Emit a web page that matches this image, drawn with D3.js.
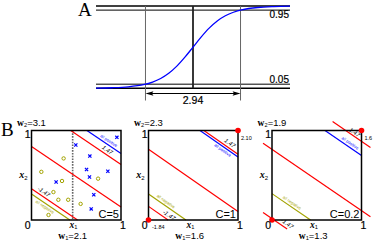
<!DOCTYPE html>
<html><head><meta charset="utf-8">
<script src="https://cdnjs.cloudflare.com/ajax/libs/d3/7.8.5/d3.min.js"></script>
<style>html,body{margin:0;padding:0;background:#fff;} svg{display:block;}</style>
</head><body>
<svg id="c" width="373" height="240"></svg>
<script>
// ---------- data: panel A ----------
const sigZ = [-3,-2.5,-2,-1.5,-1.25,-1,-0.75,-0.5,-0.25,0,0.25,0.5,0.75,1,1.25,1.5,2,2.5,3];
const sigP = [0.0025,0.0067,0.018,0.047,0.076,0.119,0.182,0.269,0.378,0.5,0.622,0.731,0.818,0.881,0.924,0.953,0.982,0.9933,0.9975];
const edgeLevels = [0, 1];
const quantLevels = [0.05, 0.95];
const quantLabels = ["0.05", "0.95"];
const halfWidth = 1.47;
const widthLabel = "2.94";

// ---------- data: panel B ----------
const w1Vals = [2.1, 1.6, 1.3];
const w2Vals = [3.1, 2.3, 1.9];
const cLabels = ["C=5", "C=1", "C=0.2"];
const midC = [2.55, 1.82, 1.5];
const marginVal = 1.47;
const marginLabels = ["1.47", "-1.47"];
const posC = [4.4, 3.22, 2.67];
const negC = [0.9, 0.67, 0.56];
const posText = "all positive";
const negText = "all negative";
const cornerLow = [null, "-1.84", null];
const cornerHigh = [null, "2.10", "1.6"];
const splitX1 = 0.46;
const posX1 = [0.495, 0.652, 0.954, 0.615, 0.853, 0.648, 0.275, 0.696, 0.667];
const posX2 = [0.838, 0.714, 0.924, 0.564, 0.545, 0.481, 0.425, 0.282, 0.124];
const negX1 = [0.359, 0.11, 0.341, 0.744, 0.245, 0.300, 0.41, 0.549, 0.19];
const negX2 = [0.688, 0.538, 0.436, 0.462, 0.312, 0.226, 0.226, 0.18, 0.056];

// ---------- layout ----------
const svg = d3.select("#c");
const SANS = "'Liberation Sans', Arial, sans-serif";
const SERIF = "'Liberation Serif', 'Times New Roman', serif";
const RED = "#ff0000", BLUE = "#0000ff", OLIVE = "#a3a300";

// ===== Panel A =====
const xA = d3.scaleLinear().domain([-3, 3]).range([96, 290]);
const yA = d3.scaleLinear().domain([0, 1]).range([88.3, 6]);
const gA = svg.append("g");
gA.append("text").attr("x", 78).attr("y", 16).attr("font-family", SERIF).attr("font-size", 19).text("A");

edgeLevels.forEach(v => gA.append("line").attr("x1", xA(-3)).attr("x2", xA(3))
  .attr("y1", yA(v)).attr("y2", yA(v)).attr("stroke", "#000").attr("stroke-width", 1.4));
quantLevels.forEach(v => gA.append("line").attr("x1", xA(-3)).attr("x2", xA(3))
  .attr("y1", yA(v)).attr("y2", yA(v)).attr("stroke", "#000").attr("stroke-width", 1));

[-halfWidth, halfWidth].forEach(z => gA.append("line").attr("x1", xA(z)).attr("x2", xA(z))
  .attr("y1", yA(1)).attr("y2", 100.5).attr("stroke", "#666").attr("stroke-width", 1));
gA.append("line").attr("x1", xA(0)).attr("x2", xA(0)).attr("y1", yA(1)).attr("y2", yA(0))
  .attr("stroke", "#222").attr("stroke-width", 1.8);

const sigData = sigZ.map((z, i) => [z, sigP[i]]);
gA.append("path").datum(sigData)
  .attr("d", d3.line().x(d => xA(d[0])).y(d => yA(d[1])).curve(d3.curveCatmullRom))
  .attr("fill", "none").attr("stroke", BLUE).attr("stroke-width", 1.3);

// arrow
const ay = 93.5;
gA.append("line").attr("x1", xA(-halfWidth) + 2).attr("x2", xA(halfWidth) - 2)
  .attr("y1", ay).attr("y2", ay).attr("stroke", "#000").attr("stroke-width", 1);
const lx = xA(-halfWidth), rx = xA(halfWidth);
gA.append("path").attr("d", `M${lx},${ay} l8,-2.2 l-1.5,2.2 l1.5,2.2 Z`).attr("fill", "#000");
gA.append("path").attr("d", `M${rx},${ay} l-8,-2.2 l1.5,2.2 l-1.5,2.2 Z`).attr("fill", "#000");
gA.append("text").attr("x", xA(0)).attr("y", 103.5).attr("text-anchor", "middle")
  .attr("font-family", SANS).attr("font-size", 10.5).attr("stroke", "#000").attr("stroke-width", 0.2).text(widthLabel);
gA.append("text").attr("x", xA(3) - 1).attr("y", yA(quantLevels[1]) + 8).attr("text-anchor", "end")
  .attr("font-family", SANS).attr("font-size", 10).attr("stroke", "#000").attr("stroke-width", 0.2).text(quantLabels[1]);
gA.append("text").attr("x", xA(3) - 1).attr("y", yA(quantLevels[0]) - 1.5).attr("text-anchor", "end")
  .attr("font-family", SANS).attr("font-size", 10).attr("stroke", "#000").attr("stroke-width", 0.2).text(quantLabels[0]);

// ===== Panel B =====
svg.append("text").attr("x", 1).attr("y", 136).attr("font-family", SERIF).attr("font-size", 19).text("B");

const boxX = [31.5, 148.5, 272];
const boxY = 130.5, boxS = 89.5;
const pads = [0, 0, 0.1];

function seg(wa, wb, c, lo, hi) {
  const pts = [];
  [lo, hi].forEach(x1 => { const x2 = (c - wa * x1) / wb; if (x2 >= lo - 1e-9 && x2 <= hi + 1e-9) pts.push([x1, x2]); });
  [lo, hi].forEach(x2 => { const x1 = (c - wb * x2) / wa; if (x1 >= lo - 1e-9 && x1 <= hi + 1e-9) pts.push([x1, x2]); });
  pts.sort((a, b) => a[0] - b[0]);
  return pts.length >= 2 ? [pts[0], pts[pts.length - 1]] : null;
}

function mathLabel(g, x, y, main, sub, rest, size, anchor, italic) {
  const t = g.append("text").attr("x", x).attr("y", y).attr("text-anchor", anchor || "start");
  t.append("tspan").attr("font-family", SERIF).attr("font-weight", "bold")
    .attr("font-style", italic ? "italic" : "normal").attr("font-size", size).text(main);
  t.append("tspan").attr("font-family", SANS).attr("font-size", size * 0.6).attr("dy", size * 0.15).text(sub);
  if (rest) t.append("tspan").attr("font-family", SANS).attr("font-size", size).attr("dy", -size * 0.15).text(rest);
  return t;
}

// label specs (layout only)
const posLab = [{t: 0.84, d: 3.5}, {t: 0.85, d: -3.5}, {t: 0.85, d: 3.5}];
const negLab = [{t: 0.17, d: -3.5}, {t: 0.17, d: 3.5}, {t: 0.2, d: 3.5}];
const hiLab = [{t: 0.82, d: 4}, {t: 0.88, d: 4}, {t: 0.9, d: 3}];
const loLab = [{t: 0.11, d: 4}, {t: 0.2, d: 4}, {t: 0.14, d: 4}];

w1Vals.forEach((w1, k) => {
  const w2 = w2Vals[k];
  const g = svg.append("g");
  const sx = d3.scaleLinear().domain([0, 1]).range([boxX[k], boxX[k] + boxS]);
  const sy = d3.scaleLinear().domain([0, 1]).range([boxY + boxS, boxY]);
  const ang = Math.atan2(boxS * w1 / w2, boxS);
  const angDeg = ang * 180 / Math.PI;

  function lineAt(c, color, lo, hi, width) {
    const s = seg(w1, w2, c, lo, hi);
    if (!s) return;
    g.append("line").attr("x1", sx(s[0][0])).attr("y1", sy(s[0][1]))
      .attr("x2", sx(s[1][0])).attr("y2", sy(s[1][1]))
      .attr("stroke", color).attr("stroke-width", width);
  }
  function textAlong(c, spec, txt, color, size, italic) {
    const x1 = spec.t, x2 = (c - w1 * x1) / w2;
    const px = sx(x1) + spec.d * Math.sin(ang), py = sy(x2) - spec.d * Math.cos(ang);
    g.append("text").attr("transform", `translate(${px},${py}) rotate(${angDeg})`)
      .attr("text-anchor", "middle").attr("dominant-baseline", "middle")
      .attr("font-family", SANS).attr("font-size", size).attr("fill", color)
      .attr("font-style", italic ? "italic" : "normal").text(txt);
  }

  const pad = pads[k];
  if (k === 0) {
    g.append("line").attr("x1", sx(splitX1)).attr("x2", sx(splitX1)).attr("y1", sy(1)).attr("y2", sy(0))
      .attr("stroke", "#666").attr("stroke-width", 1.6).attr("stroke-dasharray", "1.6,1.2");
    posX1.forEach((v, i) => {
      const cx = sx(v), cy = sy(posX2[i]), r = 1.6;
      g.append("path").attr("d", `M${cx - r},${cy - r}L${cx + r},${cy + r}M${cx - r},${cy + r}L${cx + r},${cy - r}`)
        .attr("stroke", BLUE).attr("stroke-width", 1.2);
    });
    negX1.forEach((v, i) => {
      g.append("circle").attr("cx", sx(v)).attr("cy", sy(negX2[i])).attr("r", 1.7)
        .attr("fill", "none").attr("stroke", OLIVE).attr("stroke-width", 1);
    });
  }
  lineAt(posC[k], BLUE, 0, 1, 1.2);
  lineAt(negC[k], OLIVE, 0, 1, 1.2);
  lineAt(midC[k], RED, -pad, 1 + pad, 1.2);
  lineAt(midC[k] + marginVal, RED, -pad, 1 + pad, 1.2);
  lineAt(midC[k] - marginVal, RED, -pad, 1 + pad, 1.2);

  textAlong(posC[k], posLab[k], posText, BLUE, 4.2, false);
  textAlong(negC[k], negLab[k], negText, OLIVE, 4.2, false);
  textAlong(midC[k] + marginVal, hiLab[k], marginLabels[0], "#000", 6, true);
  textAlong(midC[k] - marginVal, loLab[k], marginLabels[1], "#000", 6, true);

  g.append("rect").attr("x", boxX[k]).attr("y", boxY).attr("width", boxS).attr("height", boxS)
    .attr("fill", "none").attr("stroke", "#000").attr("stroke-width", 1.5);

  if (cornerHigh[k]) {
    g.append("circle").attr("cx", sx(1)).attr("cy", sy(1)).attr("r", 2.8).attr("fill", RED);
    g.append("text").attr("x", sx(1) + 3).attr("y", sy(1) + 9).attr("font-family", SANS)
      .attr("font-size", 5.5).text(cornerHigh[k]);
    g.append("circle").attr("cx", sx(0)).attr("cy", sy(0)).attr("r", 2.8).attr("fill", RED);
  }
  if (cornerLow[k]) {
    g.append("text").attr("x", sx(0) + 3.5).attr("y", sy(0) + 8.5).attr("font-family", SANS)
      .attr("font-size", 5.5).text(cornerLow[k]);
  }

  g.append("text").attr("x", sx(0) - 1).attr("y", sy(1) + 7.5).attr("text-anchor", "end")
    .attr("font-family", SANS).attr("font-size", 10.5).attr("stroke", "#000").attr("stroke-width", 0.2).text("1");
  g.append("text").attr("x", sx(0) - 1).attr("y", sy(0) + 8.5).attr("text-anchor", "end")
    .attr("font-family", SANS).attr("font-size", 10.5).attr("stroke", "#000").attr("stroke-width", 0.2).text("0");
  g.append("text").attr("x", sx(1) - 1).attr("y", sy(0) + 8.5).attr("text-anchor", "start")
    .attr("font-family", SANS).attr("font-size", 10.5).attr("stroke", "#000").attr("stroke-width", 0.2).text("1");
  mathLabel(g, sx(0.47), sy(0) + 7.5, "x", "1", null, 9.5, "middle", true);
  mathLabel(g, sx(0) - 4, sy(0.5) + 3, "x", "2", null, 10, "end", true);
  mathLabel(g, sx(0), boxY - 4.5, "w", "2", "=" + w2, 9.5, "middle", false);
  mathLabel(g, sx(0.46), 239, "w", "1", "=" + w1, 9.5, "middle", false);
  g.append("text").attr("x", sx(1) - 2).attr("y", sy(0) - 2).attr("text-anchor", "end")
    .attr("font-family", SANS).attr("font-size", 11).text(cLabels[k]);
});
</script>
</body></html>
